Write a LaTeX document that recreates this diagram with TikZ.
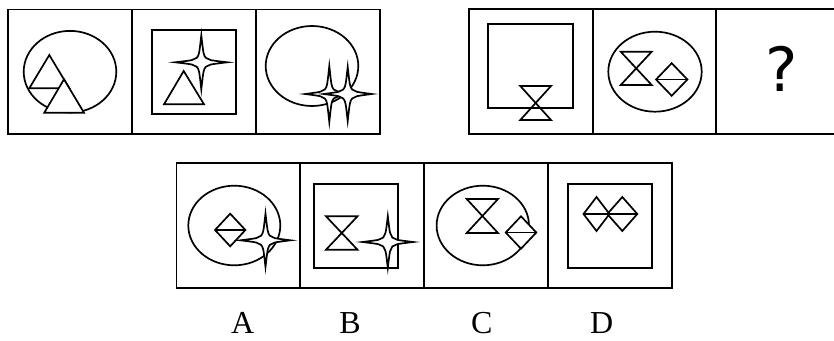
\documentclass[tikz,border=0pt]{standalone}
\usepackage{fontspec}
\setmainfont{Liberation Serif}
\newfontfamily\qfont{DejaVu Sans}
\tikzset{
  fig/.style={line width=1.7pt, draw=black, line join=miter},
  cellbox/.style={line width=1.8pt, draw=black},
  lab/.style={font=\fontsize{32}{34}\selectfont, inner sep=0pt}
}
\newcommand{\fstar}[4]{%
  \begin{scope}[shift={(#1,#2)}]
  \draw[fig,fill=white] (#3,0) .. controls (7.5,2.2) .. (4.5,4.5) .. controls (2.2,7.5) .. (0,#4)
     .. controls (-2.2,7.5) .. (-4.5,4.5) .. controls (-7.5,2.2) .. (-#3,0)
     .. controls (-7.5,-2.2) .. (-4.5,-4.5) .. controls (-2.2,-7.5) .. (0,-#4)
     .. controls (2.2,-7.5) .. (4.5,-4.5) .. controls (7.5,-2.2) .. (#3,0) -- cycle;
  \end{scope}}
\newcommand{\hglass}[4]{\draw[fig] (#1,#3) -- (#2,#3) -- (#1,#4) -- (#2,#4) -- cycle;}
\newcommand{\ddiamond}[5]{%
  \draw[fig,#5] ({#1-#3},#2) -- (#1,{#2-#4}) -- ({#1+#3},#2) -- (#1,{#2+#4}) -- cycle;
  \draw[fig] ({#1-#3},#2) -- ({#1+#3},#2);}
\begin{document}
\begin{tikzpicture}[x=1pt,y=-1pt]
\useasboundingbox (0,0) rectangle (834,340);
\clip (0,0) rectangle (834,340);
% ---------- top-left strip ----------
\draw[cellbox] (8,9.5) rectangle (380,134);
\draw[cellbox] (132,9.5) -- (132,134);
\draw[cellbox] (256,9.5) -- (256,134);
% cell 1
\draw[fig] (70,71.7) ellipse [x radius=46.3pt, y radius=40.8pt];
\draw[fig] (49.3,55) -- (29.3,88.3) -- (69.3,88.3) -- cycle;
\draw[fig,fill=white] (64,79.3) -- (44.3,112.7) -- (84,112.7) -- cycle;
% cell 2
\draw[fig] (152.3,30) rectangle (236.3,114.3);
\fstar{201.3}{62.3}{26}{27}
\draw[fig] (183.7,71) -- (164,104.3) -- (204,104.3) -- cycle;
% cell 3
\draw[fig] (312,66) ellipse [x radius=46.3pt, y radius=40pt];
\fstar{329.3}{94}{24}{28}
\fstar{347.7}{94}{24}{27}
% ---------- top-right strip ----------
\draw[cellbox] (469,9.3) rectangle (839,134.3);
\draw[cellbox] (592.7,9.3) -- (592.7,134.3);
\draw[cellbox] (716,9.3) -- (716,134.3);
% cell 4
\draw[fig] (488.3,24) rectangle (572.7,108.3);
\hglass{520.3}{551}{86}{120}
% cell 5
\draw[fig] (655,71.7) ellipse [x radius=46.7pt, y radius=40pt];
\hglass{620.7}{651.7}{51.7}{85}
\ddiamond{671.7}{79.5}{15.7}{16.3}{fill=white}
% cell 6
\node[inner sep=0pt, font=\qfont\fontsize{61}{64}\selectfont] (q) at (781.5,69.2) {?};
% ---------- bottom strip ----------
\draw[cellbox] (176.5,163.3) rectangle (672.3,287.7);
\draw[cellbox] (300.3,163.3) -- (300.3,287.7);
\draw[cellbox] (424.3,163.3) -- (424.3,287.7);
\draw[cellbox] (548.3,163.3) -- (548.3,287.7);
% A
\draw[fig] (234.3,225.5) ellipse [x radius=46pt, y radius=39.8pt];
\ddiamond{230.2}{230}{15.2}{16.3}{fill=white}
\fstar{265.5}{240.3}{25}{26.7}
% B
\draw[fig] (313.7,183.7) rectangle (397.7,268);
\hglass{326}{357.5}{216.3}{249.7}
\fstar{387.8}{242}{25.3}{25.8}
% C
\draw[fig] (482.8,225.5) ellipse [x radius=46.2pt, y radius=39.8pt];
\hglass{466.7}{498}{199}{233}
\ddiamond{521}{232.5}{15.3}{16.2}{fill=white}
% D
\draw[fig] (568.3,183.7) rectangle (652.3,268);
\ddiamond{596.5}{214}{13}{17}{}
\ddiamond{622.3}{214}{15}{17}{}
% labels
\node[lab] (la) at (242.8,323) {A};
\node[lab] (lb) at (350,323) {B};
\node[lab] (lc) at (481.7,323) {C};
\node[lab] (ld) at (601.7,323) {D};
\end{tikzpicture}
\end{document}
